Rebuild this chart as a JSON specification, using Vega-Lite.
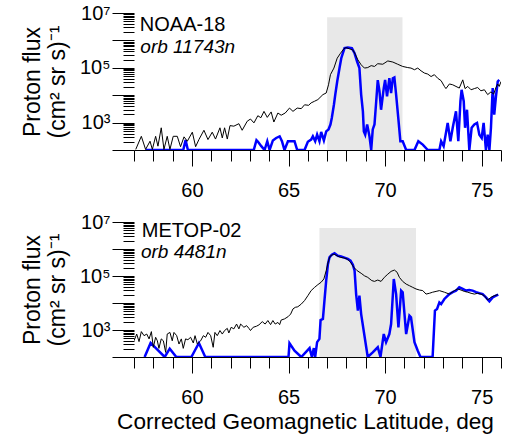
{
  "$schema": "https://vega.github.io/schema/vega-lite/v6.json",
  "padding": {"top": 3, "left": 21, "right": 5, "bottom": 3},
  "background": "white",
  "bounds": "flush",
  "spacing": 72,
  "config": {
    "font": "Liberation Sans",
    "view": {"stroke": null},
    "text": {"font": "Liberation Sans"},
    "axis": {"labelFont": "Liberation Sans", "titleFont": "Liberation Sans", "labelFontSize": 20, "titleFontSize": 23, "titleFontWeight": "normal", "labelColor": "black", "titleColor": "black", "tickColor": "black", "domainColor": "black", "grid": false, "labelOverlap": false, "labelFlush": false}
  },
  "datasets": {
    "top_shade": [{"lat": 67.0, "lat2": 70.9, "flux": 100, "flux2": 7000000}],
    "bot_shade": [{"lat": 66.6, "lat2": 71.6, "flux": 100, "flux2": 6000000}],
    "top_name": [{"label": "NOAA-18"}],
    "top_orb": [{"label": "orb 11743n"}],
    "bot_name": [{"label": "METOP-02"}],
    "bot_orb": [{"label": "orb 4481n"}],
    "top_black": [
      {"lat": 57.09, "flux": 105}, {"lat": 57.38, "flux": 316}, {"lat": 57.60, "flux": 105}, {"lat": 57.83, "flux": 209}, {"lat": 57.95, "flux": 105}, {"lat": 58.12, "flux": 316}, {"lat": 58.24, "flux": 138}, {"lat": 58.41, "flux": 646}, {"lat": 58.55, "flux": 105}, {"lat": 58.72, "flux": 316}, {"lat": 58.86, "flux": 105}, {"lat": 59.03, "flux": 316}, {"lat": 59.24, "flux": 316}, {"lat": 59.41, "flux": 132}, {"lat": 59.59, "flux": 302}, {"lat": 59.76, "flux": 209}, {"lat": 60.02, "flux": 447}, {"lat": 60.19, "flux": 132}, {"lat": 60.36, "flux": 240}, {"lat": 60.62, "flux": 525}, {"lat": 60.83, "flux": 240}, {"lat": 61.05, "flux": 447}, {"lat": 61.22, "flux": 251}, {"lat": 61.45, "flux": 646}, {"lat": 61.57, "flux": 275}, {"lat": 61.69, "flux": 646}, {"lat": 61.83, "flux": 251}, {"lat": 61.97, "flux": 776}, {"lat": 62.17, "flux": 741}, {"lat": 62.43, "flux": 912}, {"lat": 62.60, "flux": 525}, {"lat": 62.86, "flux": 1120}, {"lat": 63.03, "flux": 1350}, {"lat": 63.21, "flux": 977}, {"lat": 63.41, "flux": 1780}, {"lat": 63.57, "flux": 1510}, {"lat": 63.73, "flux": 2570}, {"lat": 63.90, "flux": 1550}, {"lat": 64.10, "flux": 2450}, {"lat": 64.24, "flux": 1050}, {"lat": 64.45, "flux": 2240}, {"lat": 64.62, "flux": 1860}, {"lat": 64.83, "flux": 2240}, {"lat": 65.05, "flux": 3390}, {"lat": 65.23, "flux": 2570}, {"lat": 65.45, "flux": 3390}, {"lat": 65.66, "flux": 3240}, {"lat": 65.83, "flux": 4470}, {"lat": 66.04, "flux": 4270}, {"lat": 66.17, "flux": 5250}, {"lat": 66.35, "flux": 6030}, {"lat": 66.52, "flux": 6920}, {"lat": 66.78, "flux": 10500}, {"lat": 66.95, "flux": 12000}, {"lat": 67.07, "flux": 24000}, {"lat": 67.17, "flux": 56200}, {"lat": 67.35, "flux": 97700}, {"lat": 67.52, "flux": 224000}, {"lat": 67.69, "flux": 339000}, {"lat": 67.86, "flux": 490000}, {"lat": 67.98, "flux": 550000}, {"lat": 68.16, "flux": 490000}, {"lat": 68.33, "flux": 447000}, {"lat": 68.45, "flux": 316000}, {"lat": 68.59, "flux": 195000}, {"lat": 68.76, "flux": 129000}, {"lat": 68.93, "flux": 97700}, {"lat": 69.10, "flux": 102000}, {"lat": 69.28, "flux": 120000}, {"lat": 69.45, "flux": 112000}, {"lat": 69.62, "flux": 141000}, {"lat": 69.88, "flux": 135000}, {"lat": 70.14, "flux": 178000}, {"lat": 70.40, "flux": 162000}, {"lat": 70.65, "flux": 135000}, {"lat": 70.91, "flux": 112000}, {"lat": 71.17, "flux": 102000}, {"lat": 71.34, "flux": 97700}, {"lat": 71.52, "flux": 85100}, {"lat": 71.69, "flux": 97700}, {"lat": 71.86, "flux": 77600}, {"lat": 72.03, "flux": 64600}, {"lat": 72.21, "flux": 58900}, {"lat": 72.38, "flux": 47900}, {"lat": 72.55, "flux": 56200}, {"lat": 72.72, "flux": 41700}, {"lat": 72.90, "flux": 33900}, {"lat": 73.07, "flux": 20900}, {"lat": 73.15, "flux": 17400}, {"lat": 73.33, "flux": 25700}, {"lat": 73.50, "flux": 24000}, {"lat": 73.67, "flux": 20900}, {"lat": 73.84, "flux": 18200}, {"lat": 74.02, "flux": 36300}, {"lat": 74.14, "flux": 17400}, {"lat": 74.28, "flux": 20900}, {"lat": 74.45, "flux": 15800}, {"lat": 74.62, "flux": 17400}, {"lat": 74.79, "flux": 19100}, {"lat": 74.96, "flux": 14500}, {"lat": 75.14, "flux": 15800}, {"lat": 75.31, "flux": 10500}, {"lat": 75.48, "flux": 13200}, {"lat": 75.62, "flux": 11000}, {"lat": 75.74, "flux": 19100}, {"lat": 75.83, "flux": 25700}, {"lat": 75.91, "flux": 20900}, {"lat": 76.0, "flux": 31600}
    ],
    "top_blue": [
      {"lat": 57.60, "flux": 100}, {"lat": 59.55, "flux": 100}, {"lat": 59.67, "flux": 229}, {"lat": 59.79, "flux": 100}, {"lat": 63.20, "flux": 100}, {"lat": 63.34, "flux": 229}, {"lat": 63.42, "flux": 200}, {"lat": 63.59, "flux": 138}, {"lat": 63.76, "flux": 100}, {"lat": 63.90, "flux": 209}, {"lat": 64.02, "flux": 100}, {"lat": 64.19, "flux": 224}, {"lat": 64.36, "flux": 275}, {"lat": 64.54, "flux": 316}, {"lat": 64.66, "flux": 209}, {"lat": 64.79, "flux": 100}, {"lat": 64.97, "flux": 209}, {"lat": 65.31, "flux": 209}, {"lat": 65.45, "flux": 100}, {"lat": 65.83, "flux": 100}, {"lat": 66.00, "flux": 200}, {"lat": 66.17, "flux": 240}, {"lat": 66.26, "flux": 316}, {"lat": 66.38, "flux": 209}, {"lat": 66.48, "flux": 363}, {"lat": 66.60, "flux": 209}, {"lat": 66.69, "flux": 457}, {"lat": 66.83, "flux": 224}, {"lat": 66.95, "flux": 479}, {"lat": 67.07, "flux": 562}, {"lat": 67.17, "flux": 851}, {"lat": 67.24, "flux": 1480}, {"lat": 67.35, "flux": 4470}, {"lat": 67.42, "flux": 10500}, {"lat": 67.52, "flux": 31600}, {"lat": 67.64, "flux": 97700}, {"lat": 67.73, "flux": 224000}, {"lat": 67.81, "flux": 339000}, {"lat": 67.90, "flux": 525000}, {"lat": 68.07, "flux": 550000}, {"lat": 68.28, "flux": 525000}, {"lat": 68.42, "flux": 339000}, {"lat": 68.55, "flux": 170000}, {"lat": 68.67, "flux": 97700}, {"lat": 68.76, "flux": 10500}, {"lat": 68.85, "flux": 2570}, {"lat": 68.90, "flux": 479}, {"lat": 68.97, "flux": 363}, {"lat": 69.07, "flux": 851}, {"lat": 69.19, "flux": 316}, {"lat": 69.28, "flux": 100}, {"lat": 69.36, "flux": 562}, {"lat": 69.45, "flux": 851}, {"lat": 69.54, "flux": 6030}, {"lat": 69.62, "flux": 35500}, {"lat": 69.71, "flux": 13800}, {"lat": 69.79, "flux": 2950}, {"lat": 69.93, "flux": 18200}, {"lat": 70.00, "flux": 36300}, {"lat": 70.10, "flux": 9120}, {"lat": 70.22, "flux": 41700}, {"lat": 70.31, "flux": 12000}, {"lat": 70.40, "flux": 41700}, {"lat": 70.48, "flux": 44700}, {"lat": 70.57, "flux": 10500}, {"lat": 70.69, "flux": 1290}, {"lat": 70.79, "flux": 209}, {"lat": 70.91, "flux": 209}, {"lat": 71.09, "flux": 100}, {"lat": 71.52, "flux": 100}, {"lat": 71.72, "flux": 209}, {"lat": 71.95, "flux": 158}, {"lat": 72.21, "flux": 100}, {"lat": 72.81, "flux": 100}, {"lat": 72.90, "flux": 209}, {"lat": 73.03, "flux": 138}, {"lat": 73.24, "flux": 977}, {"lat": 73.38, "flux": 209}, {"lat": 73.50, "flux": 646}, {"lat": 73.67, "flux": 2570}, {"lat": 73.79, "flux": 209}, {"lat": 73.90, "flux": 6030}, {"lat": 73.96, "flux": 15800}, {"lat": 74.07, "flux": 6030}, {"lat": 74.14, "flux": 646}, {"lat": 74.24, "flux": 2950}, {"lat": 74.36, "flux": 100}, {"lat": 74.48, "flux": 646}, {"lat": 74.62, "flux": 851}, {"lat": 74.76, "flux": 977}, {"lat": 74.88, "flux": 363}, {"lat": 75.00, "flux": 275}, {"lat": 75.10, "flux": 977}, {"lat": 75.22, "flux": 100}, {"lat": 75.31, "flux": 363}, {"lat": 75.40, "flux": 100}, {"lat": 75.48, "flux": 646}, {"lat": 75.57, "flux": 18200}, {"lat": 75.65, "flux": 1950}, {"lat": 75.74, "flux": 9120}, {"lat": 75.83, "flux": 31600}, {"lat": 75.91, "flux": 36300}
    ],
    "bot_black": [
      {"lat": 57.00, "flux": 398}, {"lat": 57.14, "flux": 708}, {"lat": 57.26, "flux": 372}, {"lat": 57.38, "flux": 871}, {"lat": 57.52, "flux": 617}, {"lat": 57.66, "flux": 708}, {"lat": 57.78, "flux": 468}, {"lat": 57.90, "flux": 871}, {"lat": 58.00, "flux": 229}, {"lat": 58.12, "flux": 537}, {"lat": 58.21, "flux": 398}, {"lat": 58.29, "flux": 209}, {"lat": 58.41, "flux": 468}, {"lat": 58.52, "flux": 398}, {"lat": 58.64, "flux": 148}, {"lat": 58.72, "flux": 708}, {"lat": 58.86, "flux": 813}, {"lat": 58.98, "flux": 398}, {"lat": 59.07, "flux": 813}, {"lat": 59.21, "flux": 617}, {"lat": 59.33, "flux": 302}, {"lat": 59.45, "flux": 468}, {"lat": 59.55, "flux": 209}, {"lat": 59.67, "flux": 468}, {"lat": 59.79, "flux": 437}, {"lat": 59.93, "flux": 537}, {"lat": 60.07, "flux": 331}, {"lat": 60.16, "flux": 617}, {"lat": 60.28, "flux": 302}, {"lat": 60.45, "flux": 398}, {"lat": 60.59, "flux": 617}, {"lat": 60.71, "flux": 537}, {"lat": 60.83, "flux": 813}, {"lat": 60.97, "flux": 617}, {"lat": 61.10, "flux": 229}, {"lat": 61.19, "flux": 813}, {"lat": 61.31, "flux": 617}, {"lat": 61.45, "flux": 955}, {"lat": 61.57, "flux": 708}, {"lat": 61.69, "flux": 955}, {"lat": 61.83, "flux": 1150}, {"lat": 61.91, "flux": 776}, {"lat": 62.03, "flux": 1260}, {"lat": 62.17, "flux": 1100}, {"lat": 62.31, "flux": 1660}, {"lat": 62.43, "flux": 1100}, {"lat": 62.52, "flux": 1660}, {"lat": 62.69, "flux": 1260}, {"lat": 62.83, "flux": 1450}, {"lat": 62.95, "flux": 1150}, {"lat": 63.03, "flux": 955}, {"lat": 63.17, "flux": 1260}, {"lat": 63.34, "flux": 1380}, {"lat": 63.47, "flux": 1550}, {"lat": 63.64, "flux": 2040}, {"lat": 63.79, "flux": 1660}, {"lat": 63.93, "flux": 2240}, {"lat": 64.07, "flux": 1580}, {"lat": 64.19, "flux": 2240}, {"lat": 64.31, "flux": 1660}, {"lat": 64.45, "flux": 1910}, {"lat": 64.54, "flux": 1580}, {"lat": 64.62, "flux": 2340}, {"lat": 64.79, "flux": 2570}, {"lat": 64.97, "flux": 3090}, {"lat": 65.11, "flux": 3890}, {"lat": 65.23, "flux": 6030}, {"lat": 65.35, "flux": 6920}, {"lat": 65.48, "flux": 7240}, {"lat": 65.66, "flux": 9120}, {"lat": 65.83, "flux": 12300}, {"lat": 66.00, "flux": 18600}, {"lat": 66.17, "flux": 28800}, {"lat": 66.35, "flux": 38000}, {"lat": 66.52, "flux": 47900}, {"lat": 66.69, "flux": 58900}, {"lat": 66.83, "flux": 77600}, {"lat": 66.95, "flux": 158000}, {"lat": 67.07, "flux": 372000}, {"lat": 67.17, "flux": 562000}, {"lat": 67.35, "flux": 646000}, {"lat": 67.52, "flux": 562000}, {"lat": 67.69, "flux": 490000}, {"lat": 67.86, "flux": 468000}, {"lat": 68.04, "flux": 427000}, {"lat": 68.21, "flux": 324000}, {"lat": 68.38, "flux": 209000}, {"lat": 68.55, "flux": 158000}, {"lat": 68.76, "flux": 126000}, {"lat": 68.93, "flux": 102000}, {"lat": 69.10, "flux": 89100}, {"lat": 69.31, "flux": 67600}, {"lat": 69.45, "flux": 63100}, {"lat": 69.62, "flux": 70800}, {"lat": 69.79, "flux": 63100}, {"lat": 69.96, "flux": 89100}, {"lat": 70.14, "flux": 117000}, {"lat": 70.31, "flux": 148000}, {"lat": 70.48, "flux": 166000}, {"lat": 70.62, "flux": 138000}, {"lat": 70.74, "flux": 89100}, {"lat": 70.91, "flux": 63100}, {"lat": 71.09, "flux": 50100}, {"lat": 71.26, "flux": 43700}, {"lat": 71.43, "flux": 38000}, {"lat": 71.60, "flux": 33100}, {"lat": 71.78, "flux": 30200}, {"lat": 71.95, "flux": 28800}, {"lat": 72.12, "flux": 21400}, {"lat": 72.29, "flux": 22900}, {"lat": 72.46, "flux": 25100}, {"lat": 72.64, "flux": 26900}, {"lat": 72.81, "flux": 28800}, {"lat": 73.07, "flux": 25100}, {"lat": 73.33, "flux": 21400}, {"lat": 73.59, "flux": 28800}, {"lat": 73.76, "flux": 33100}, {"lat": 73.93, "flux": 30200}, {"lat": 74.10, "flux": 26900}, {"lat": 74.28, "flux": 25100}, {"lat": 74.45, "flux": 22900}, {"lat": 74.62, "flux": 21400}, {"lat": 74.79, "flux": 22900}, {"lat": 74.96, "flux": 21400}, {"lat": 75.14, "flux": 18600}, {"lat": 75.31, "flux": 12900}, {"lat": 75.48, "flux": 16200}, {"lat": 75.65, "flux": 18600}, {"lat": 75.83, "flux": 20400}
    ],
    "bot_blue": [
      {"lat": 57.55, "flux": 100}, {"lat": 57.86, "flux": 331}, {"lat": 58.59, "flux": 100}, {"lat": 58.85, "flux": 204}, {"lat": 59.19, "flux": 100}, {"lat": 59.97, "flux": 100}, {"lat": 60.36, "flux": 331}, {"lat": 60.69, "flux": 100}, {"lat": 65.00, "flux": 100}, {"lat": 65.05, "flux": 324}, {"lat": 65.31, "flux": 170}, {"lat": 65.66, "flux": 100}, {"lat": 66.09, "flux": 214}, {"lat": 66.21, "flux": 100}, {"lat": 66.31, "flux": 214}, {"lat": 66.38, "flux": 100}, {"lat": 66.48, "flux": 355}, {"lat": 66.60, "flux": 468}, {"lat": 66.66, "flux": 2340}, {"lat": 66.78, "flux": 2570}, {"lat": 66.86, "flux": 12300}, {"lat": 66.95, "flux": 67600}, {"lat": 67.04, "flux": 275000}, {"lat": 67.12, "flux": 490000}, {"lat": 67.24, "flux": 617000}, {"lat": 67.38, "flux": 692000}, {"lat": 67.55, "flux": 562000}, {"lat": 67.72, "flux": 525000}, {"lat": 67.93, "flux": 468000}, {"lat": 68.07, "flux": 427000}, {"lat": 68.21, "flux": 372000}, {"lat": 68.33, "flux": 263000}, {"lat": 68.42, "flux": 158000}, {"lat": 68.50, "flux": 21400}, {"lat": 68.59, "flux": 5250}, {"lat": 68.67, "flux": 18600}, {"lat": 68.76, "flux": 3890}, {"lat": 69.10, "flux": 100}, {"lat": 69.36, "flux": 148}, {"lat": 69.62, "flux": 229}, {"lat": 69.76, "flux": 100}, {"lat": 69.93, "flux": 708}, {"lat": 70.05, "flux": 355}, {"lat": 70.22, "flux": 708}, {"lat": 70.31, "flux": 1660}, {"lat": 70.45, "flux": 77600}, {"lat": 70.57, "flux": 21400}, {"lat": 70.69, "flux": 1260}, {"lat": 70.83, "flux": 28800}, {"lat": 70.91, "flux": 25100}, {"lat": 71.09, "flux": 708}, {"lat": 71.26, "flux": 3390}, {"lat": 71.34, "flux": 2950}, {"lat": 71.52, "flux": 355}, {"lat": 71.69, "flux": 170}, {"lat": 71.83, "flux": 100}, {"lat": 72.46, "flux": 100}, {"lat": 72.58, "flux": 5250}, {"lat": 72.69, "flux": 6030}, {"lat": 72.81, "flux": 10500}, {"lat": 72.90, "flux": 9120}, {"lat": 73.07, "flux": 14100}, {"lat": 73.33, "flux": 21400}, {"lat": 73.50, "flux": 25100}, {"lat": 73.67, "flux": 28800}, {"lat": 73.84, "flux": 38000}, {"lat": 74.02, "flux": 33100}, {"lat": 74.19, "flux": 28800}, {"lat": 74.36, "flux": 30200}, {"lat": 74.53, "flux": 28800}, {"lat": 74.71, "flux": 25100}, {"lat": 74.88, "flux": 22900}, {"lat": 75.05, "flux": 21400}, {"lat": 75.22, "flux": 16200}, {"lat": 75.40, "flux": 11500}, {"lat": 75.57, "flux": 16200}, {"lat": 75.74, "flux": 18600}, {"lat": 75.86, "flux": 20400}
    ]
  },
  "vconcat": [
    {
      "width": 367,
      "height": 137,
      "layer": [
        {
          "encoding": {
            "x": {"field": "lat", "type": "quantitative", "scale": {"domain": [57, 76], "nice": false, "zero": false},
              "axis": {"title": null, "labelOverlap": false, "labelFlush": false, "values": [57,58,59,60,61,62,63,64,65,66,67,68,69,70,71,72,73,74,75,76], "labelExpr": "datum.value % 5 === 0 ? datum.label : ''", "tickSize": {"condition": {"test": "datum.value % 5 === 0", "value": 16}, "value": 11}, "labelPadding": 14}},
            "y": {"field": "flux", "type": "quantitative", "scale": {"type": "log", "domain": [100, 10000000], "nice": false},
              "axis": {"title": ["Proton flux", "(cm² sr s)⁻¹"], "titleLineHeight": 25, "titlePadding": 10, "domain": false, "labelOverlap": false, "labelFlush": false,
                "values": [100,200,300,400,500,600,700,800,900,1000,2000,3000,4000,5000,6000,7000,8000,9000,10000,20000,30000,40000,50000,60000,70000,80000,90000,100000,200000,300000,400000,500000,600000,700000,800000,900000,1000000,2000000,3000000,4000000,5000000,6000000,7000000,8000000,9000000,10000000],
                "labelExpr": "datum.value==1000?'10³':datum.value==100000?'10⁵':datum.value==10000000?'10⁷':''",
                "tickSize": {"condition": {"test": "datum.value==100||datum.value==1000||datum.value==10000||datum.value==100000||datum.value==1000000||datum.value==10000000", "value": 22}, "value": 11},
                "labelPadding": 2}}
          },
          "layer": [
            {"data": {"name": "top_shade"}, "mark": {"type": "rect", "color": "#e8e8e8"}, "encoding": {"x2": {"field": "lat2"}, "y2": {"field": "flux2"}}},
            {"data": {"name": "top_blue"}, "mark": {"type": "line", "color": "#0000ff", "strokeWidth": 2.5, "clip": true}},
            {"data": {"name": "top_black"}, "mark": {"type": "line", "color": "black", "strokeWidth": 1, "clip": true}}
          ]
        },
        {"data": {"name": "top_name"}, "mark": {"type": "text", "align": "left", "baseline": "alphabetic", "fontSize": 20, "fill": "black"},
          "encoding": {
            "x": {"datum": 57.3, "type": "quantitative", "axis": {"title": null, "labelOverlap": false, "labelFlush": false, "values": [57,58,59,60,61,62,63,64,65,66,67,68,69,70,71,72,73,74,75,76], "labelExpr": "datum.value % 5 === 0 ? datum.label : ''", "tickSize": {"condition": {"test": "datum.value % 5 === 0", "value": 16}, "value": 11}, "labelPadding": 14}},
            "y": {"datum": 2200000, "type": "quantitative", "axis": {"title": ["Proton flux", "(cm² sr s)⁻¹"], "titleLineHeight": 25, "titlePadding": 10, "domain": false, "labelOverlap": false, "labelFlush": false,
                "values": [100,200,300,400,500,600,700,800,900,1000,2000,3000,4000,5000,6000,7000,8000,9000,10000,20000,30000,40000,50000,60000,70000,80000,90000,100000,200000,300000,400000,500000,600000,700000,800000,900000,1000000,2000000,3000000,4000000,5000000,6000000,7000000,8000000,9000000,10000000],
                "labelExpr": "datum.value==1000?'10³':datum.value==100000?'10⁵':datum.value==10000000?'10⁷':''",
                "tickSize": {"condition": {"test": "datum.value==100||datum.value==1000||datum.value==10000||datum.value==100000||datum.value==1000000||datum.value==10000000", "value": 22}, "value": 11},
                "labelPadding": 2}},
            "text": {"field": "label"}}},
        {"data": {"name": "top_orb"}, "mark": {"type": "text", "align": "left", "baseline": "alphabetic", "fontSize": 19, "fontStyle": "italic", "fill": "black"},
          "encoding": {
            "x": {"datum": 57.33, "type": "quantitative", "axis": {"title": null, "labelOverlap": false, "labelFlush": false, "values": [57,58,59,60,61,62,63,64,65,66,67,68,69,70,71,72,73,74,75,76], "labelExpr": "datum.value % 5 === 0 ? datum.label : ''", "tickSize": {"condition": {"test": "datum.value % 5 === 0", "value": 16}, "value": 11}, "labelPadding": 14}},
            "y": {"datum": 350000, "type": "quantitative", "axis": {"title": ["Proton flux", "(cm² sr s)⁻¹"], "titleLineHeight": 25, "titlePadding": 10, "domain": false, "labelOverlap": false, "labelFlush": false,
                "values": [100,200,300,400,500,600,700,800,900,1000,2000,3000,4000,5000,6000,7000,8000,9000,10000,20000,30000,40000,50000,60000,70000,80000,90000,100000,200000,300000,400000,500000,600000,700000,800000,900000,1000000,2000000,3000000,4000000,5000000,6000000,7000000,8000000,9000000,10000000],
                "labelExpr": "datum.value==1000?'10³':datum.value==100000?'10⁵':datum.value==10000000?'10⁷':''",
                "tickSize": {"condition": {"test": "datum.value==100||datum.value==1000||datum.value==10000||datum.value==100000||datum.value==1000000||datum.value==10000000", "value": 22}, "value": 11},
                "labelPadding": 2}},
            "text": {"field": "label"}}}
      ]
    },
    {
      "width": 367,
      "height": 135,
      "layer": [
        {
          "encoding": {
            "x": {"field": "lat", "type": "quantitative", "scale": {"domain": [57, 76], "nice": false, "zero": false},
              "axis": {"title": "Corrected Geomagnetic Latitude, deg", "titleFontSize": 22.6, "titlePadding": 3, "titleX": 171, "titleAlign": "center", "labelOverlap": false, "labelFlush": false, "values": [57,58,59,60,61,62,63,64,65,66,67,68,69,70,71,72,73,74,75,76], "labelExpr": "datum.value % 5 === 0 ? datum.label : ''", "tickSize": {"condition": {"test": "datum.value % 5 === 0", "value": 16}, "value": 11}, "labelPadding": 14}},
            "y": {"field": "flux", "type": "quantitative", "scale": {"type": "log", "domain": [100, 10000000], "nice": false},
              "axis": {"title": ["Proton flux", "(cm² sr s)⁻¹"], "titleLineHeight": 25, "titlePadding": 10, "domain": false, "labelOverlap": false, "labelFlush": false,
                "values": [100,200,300,400,500,600,700,800,900,1000,2000,3000,4000,5000,6000,7000,8000,9000,10000,20000,30000,40000,50000,60000,70000,80000,90000,100000,200000,300000,400000,500000,600000,700000,800000,900000,1000000,2000000,3000000,4000000,5000000,6000000,7000000,8000000,9000000,10000000],
                "labelExpr": "datum.value==1000?'10³':datum.value==100000?'10⁵':datum.value==10000000?'10⁷':''",
                "tickSize": {"condition": {"test": "datum.value==100||datum.value==1000||datum.value==10000||datum.value==100000||datum.value==1000000||datum.value==10000000", "value": 22}, "value": 11},
                "labelPadding": 2}}
          },
          "layer": [
            {"data": {"name": "bot_shade"}, "mark": {"type": "rect", "color": "#e8e8e8"}, "encoding": {"x2": {"field": "lat2"}, "y2": {"field": "flux2"}}},
            {"data": {"name": "bot_blue"}, "mark": {"type": "line", "color": "#0000ff", "strokeWidth": 2.5, "clip": true}},
            {"data": {"name": "bot_black"}, "mark": {"type": "line", "color": "black", "strokeWidth": 1, "clip": true}}
          ]
        },
        {"data": {"name": "bot_name"}, "mark": {"type": "text", "align": "left", "baseline": "alphabetic", "fontSize": 20, "fill": "black"},
          "encoding": {
            "x": {"datum": 57.4, "type": "quantitative", "axis": {"title": "Corrected Geomagnetic Latitude, deg", "titleFontSize": 22.6, "titlePadding": 3, "titleX": 171, "titleAlign": "center", "labelOverlap": false, "labelFlush": false, "values": [57,58,59,60,61,62,63,64,65,66,67,68,69,70,71,72,73,74,75,76], "labelExpr": "datum.value % 5 === 0 ? datum.label : ''", "tickSize": {"condition": {"test": "datum.value % 5 === 0", "value": 16}, "value": 11}, "labelPadding": 14}},
            "y": {"datum": 2780000, "type": "quantitative", "axis": {"title": ["Proton flux", "(cm² sr s)⁻¹"], "titleLineHeight": 25, "titlePadding": 10, "domain": false, "labelOverlap": false, "labelFlush": false,
                "values": [100,200,300,400,500,600,700,800,900,1000,2000,3000,4000,5000,6000,7000,8000,9000,10000,20000,30000,40000,50000,60000,70000,80000,90000,100000,200000,300000,400000,500000,600000,700000,800000,900000,1000000,2000000,3000000,4000000,5000000,6000000,7000000,8000000,9000000,10000000],
                "labelExpr": "datum.value==1000?'10³':datum.value==100000?'10⁵':datum.value==10000000?'10⁷':''",
                "tickSize": {"condition": {"test": "datum.value==100||datum.value==1000||datum.value==10000||datum.value==100000||datum.value==1000000||datum.value==10000000", "value": 22}, "value": 11},
                "labelPadding": 2}},
            "text": {"field": "label"}}},
        {"data": {"name": "bot_orb"}, "mark": {"type": "text", "align": "left", "baseline": "alphabetic", "fontSize": 19, "fontStyle": "italic", "fill": "black"},
          "encoding": {
            "x": {"datum": 57.36, "type": "quantitative", "axis": {"title": "Corrected Geomagnetic Latitude, deg", "titleFontSize": 22.6, "titlePadding": 3, "titleX": 171, "titleAlign": "center", "labelOverlap": false, "labelFlush": false, "values": [57,58,59,60,61,62,63,64,65,66,67,68,69,70,71,72,73,74,75,76], "labelExpr": "datum.value % 5 === 0 ? datum.label : ''", "tickSize": {"condition": {"test": "datum.value % 5 === 0", "value": 16}, "value": 11}, "labelPadding": 14}},
            "y": {"datum": 460000, "type": "quantitative", "axis": {"title": ["Proton flux", "(cm² sr s)⁻¹"], "titleLineHeight": 25, "titlePadding": 10, "domain": false, "labelOverlap": false, "labelFlush": false,
                "values": [100,200,300,400,500,600,700,800,900,1000,2000,3000,4000,5000,6000,7000,8000,9000,10000,20000,30000,40000,50000,60000,70000,80000,90000,100000,200000,300000,400000,500000,600000,700000,800000,900000,1000000,2000000,3000000,4000000,5000000,6000000,7000000,8000000,9000000,10000000],
                "labelExpr": "datum.value==1000?'10³':datum.value==100000?'10⁵':datum.value==10000000?'10⁷':''",
                "tickSize": {"condition": {"test": "datum.value==100||datum.value==1000||datum.value==10000||datum.value==100000||datum.value==1000000||datum.value==10000000", "value": 22}, "value": 11},
                "labelPadding": 2}},
            "text": {"field": "label"}}}
      ]
    }
  ]
}
